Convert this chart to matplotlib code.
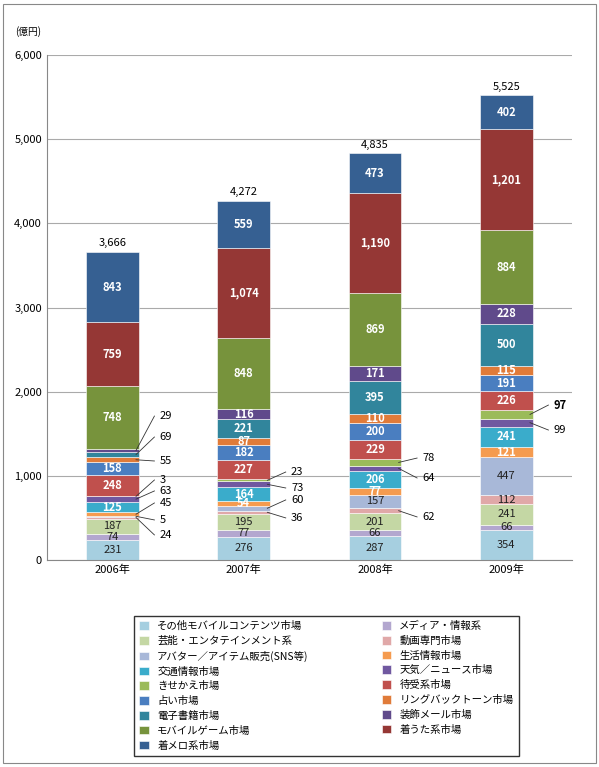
import matplotlib.pyplot as plt
import numpy as np

plt.rcParams['font.family'] = ['Noto Sans CJK JP', 'DejaVu Sans']

years = ['2006年', '2007年', '2008年', '2009年']
names = ['その他モバイルコンテンツ市場', 'メディア・情報系', '芸能・エンタテインメント系', '動画専門市場',
         'アバター／アイテム販売(SNS等)', '生活情報市場', '交通情報市場', '天気／ニュース市場',
         'きせかえ市場', '待受系市場', '占い市場', 'リングバックトーン市場',
         '電子書籍市場', '装飾メール市場', 'モバイルゲーム市場', '着うた系市場', '着メロ系市場']
values = [
    [231, 276, 287, 354],
    [74, 77, 66, 66],
    [187, 195, 201, 241],
    [24, 36, 62, 112],
    [5, 60, 157, 447],
    [45, 54, 77, 121],
    [125, 164, 206, 241],
    [63, 73, 64, 99],
    [3, 23, 78, 97],
    [248, 227, 229, 226],
    [158, 182, 200, 191],
    [55, 87, 110, 115],
    [69, 221, 395, 500],
    [29, 116, 171, 228],
    [748, 848, 869, 884],
    [759, 1074, 1190, 1201],
    [843, 559, 473, 402],
]
colors = ['#a6cfe0', '#b3a7cf', '#c4d7a4', '#e0a8a8', '#a8b8d8', '#f59b4f', '#3aaccb', '#7058a0',
          '#9bbb59', '#c0504d', '#4a7ec0', '#e07b39', '#31859c', '#604a8b', '#77933c', '#953735', '#366092']
light = {0, 1, 2, 3, 4}
# small segments labelled outside with leader lines: (series, year) -> label y
outside = {
    (13, 0): 1710, (12, 0): 1461, (11, 0): 1176, (8, 0): 950, (7, 0): 820, (5, 0): 677, (4, 0): 475, (3, 0): 297,
    (8, 1): 1045, (7, 1): 855, (4, 1): 713, (3, 1): 499,
    (8, 2): 1211, (7, 2): 974, (3, 2): 511,
    (8, 3): 1841, (7, 3): 1544,
}

fig = plt.figure(figsize=(5.99, 7.67), dpi=100)
fig.patches.append(plt.Rectangle((0.005, 0.005), 0.99, 0.99, transform=fig.transFigure,
                                 fill=False, edgecolor='#888888', lw=0.8))
ax = fig.add_axes([0.078, 0.27, 0.877, 0.658])
x = np.arange(len(years))
w = 0.4
bottom = np.zeros(len(years))
for i, (name, vals) in enumerate(zip(names, values)):
    vals = np.array(vals, dtype=float)
    ax.bar(x, vals, w, bottom=bottom, color=colors[i], label=name, edgecolor='white', lw=0.4)
    for j, v in enumerate(vals):
        mid = bottom[j] + v / 2
        if (i, j) in outside:
            ly = outside[(i, j)]
            lx = x[j] + 0.36
            ax.plot([x[j] + w / 2 - 0.02, lx - 0.04], [mid, ly], color='#333333', lw=0.6)
            ax.text(lx, ly, f'{int(v):,}', ha='left', va='center', fontsize=8,
                    fontweight='bold' if (i, j) == (8, 3) else 'normal')
        else:
            ax.text(x[j], mid, f'{int(v):,}', ha='center', va='center', fontsize=8,
                    color='#222222' if i in light else 'white', fontweight='bold' if i not in light else 'normal')
    bottom += vals
for j, t in enumerate(bottom):
    ax.text(x[j], t + 40, f'{int(t):,}', ha='center', va='bottom', fontsize=8)

ax.set_ylim(0, 6000)
ax.set_yticks(np.arange(0, 6001, 1000))
ax.set_yticklabels([f'{v:,}' for v in range(0, 6001, 1000)], fontsize=8)
ax.set_xlim(-0.5, 3.5)
ax.set_xticks(x)
ax.set_xticklabels(years, fontsize=8)
ax.grid(axis='y', color='#aaaaaa', lw=0.8)
ax.set_axisbelow(True)
for s in ['top', 'right']:
    ax.spines[s].set_visible(False)
ax.spines['left'].set_color('#888888')
ax.spines['bottom'].set_color('#888888')
ax.tick_params(length=0)
fig.text(0.025, 0.955, '(億円)', fontsize=7)

h, l = ax.get_legend_handles_labels()
# column-wise order to get row pairs like the reference
order = list(range(0, 17, 2)) + list(range(1, 17, 2))
leg = fig.legend([h[k] for k in order], [l[k] for k in order], loc='lower center',
                 bbox_to_anchor=(0.545, 0.008), ncol=2, fontsize=7.5, frameon=True, fancybox=False,
                 edgecolor='black', handlelength=0.9, handleheight=0.9, columnspacing=7,
                 labelspacing=0.45, borderpad=0.5)
fig.savefig('out.png', dpi=100)
